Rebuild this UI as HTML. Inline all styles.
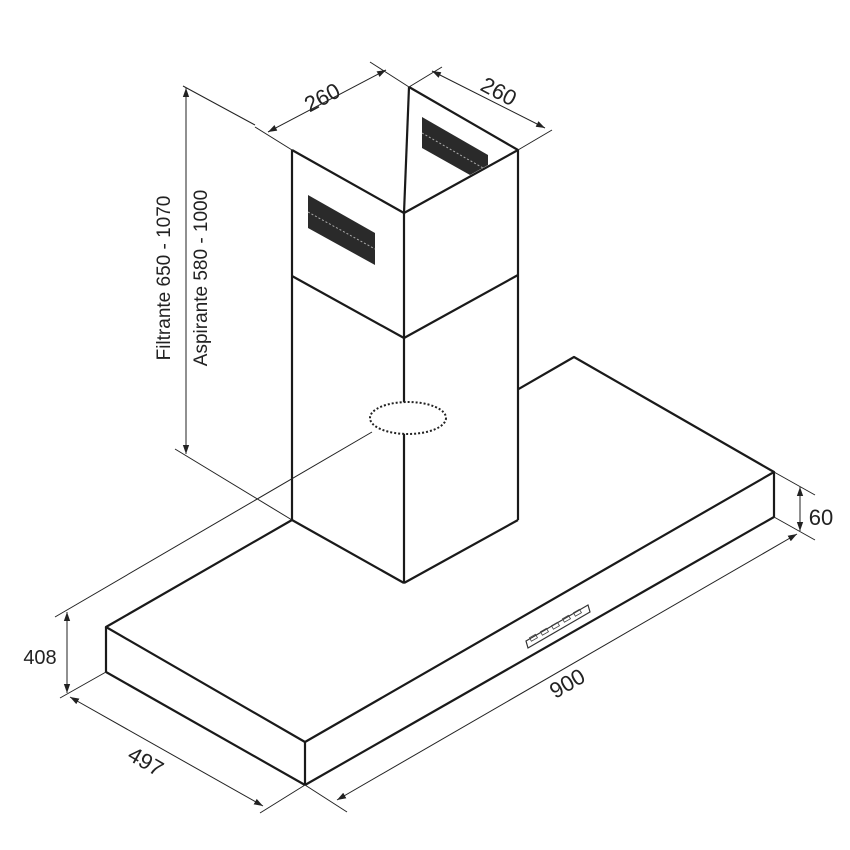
<!DOCTYPE html>
<html><head><meta charset="utf-8"><style>
html,body{margin:0;padding:0;background:#fff;}
svg{display:block;}
text{font-family:"Liberation Sans","DejaVu Sans",sans-serif;fill:#222;}
</style></head><body>
<svg width="850" height="850" viewBox="0 0 850 850" xmlns="http://www.w3.org/2000/svg">
<defs>
<marker id="a" viewBox="0 0 10 10" refX="10" refY="5" markerWidth="9" markerHeight="9" orient="auto-start-reverse" markerUnits="userSpaceOnUse">
<path d="M0,1.5 L10,5 L0,8.5 z" fill="#222"/></marker>
</defs>
<g stroke="#1a1a1a" stroke-width="2.2" fill="none" stroke-linejoin="round">
<!-- base -->
<polygon points="106,627 292,520 574,357 774,472 305,742" fill="#fff"/>
<line x1="106" y1="627" x2="106" y2="672"/>
<line x1="106" y1="672" x2="305" y2="785"/>
<line x1="305" y1="742" x2="305" y2="785"/>
<line x1="305" y1="785" x2="774" y2="517"/>
<line x1="774" y1="472" x2="774" y2="517"/>
<!-- chimney -->
<polygon points="292,150 404,213 518,150 518,520 404,583 292,520" fill="#fff" stroke="none"/>
<line x1="292" y1="150" x2="292" y2="520"/>
<line x1="404" y1="213" x2="404" y2="583"/>
<line x1="518" y1="150" x2="518" y2="520"/>
<line x1="292" y1="520" x2="404" y2="583"/>
<line x1="404" y1="583" x2="518" y2="520"/>
<line x1="292" y1="150" x2="404" y2="213"/>
<line x1="404" y1="213" x2="518" y2="150"/>
<line x1="409" y1="87" x2="518" y2="150"/>
<line x1="409" y1="87" x2="404" y2="213"/>
<line x1="292" y1="276" x2="404" y2="338"/>
<line x1="404" y1="338" x2="518" y2="275"/>
</g>
<g stroke="#222" stroke-width="1" fill="none">
<!-- extension lines -->
<line x1="255" y1="127" x2="292" y2="150"/>
<line x1="370" y1="62" x2="409" y2="87"/>
<line x1="409" y1="87" x2="442" y2="67"/>
<line x1="518" y1="150" x2="552" y2="130"/>
<line x1="183" y1="86" x2="255" y2="125"/>
<line x1="175" y1="449" x2="292" y2="520"/>
<line x1="372" y1="432" x2="55" y2="617"/>
<line x1="60" y1="698" x2="106" y2="672"/>
<line x1="260" y1="813" x2="305" y2="785"/>
<line x1="305" y1="785" x2="347" y2="812"/>
<line x1="774" y1="472" x2="815" y2="495"/>
<line x1="774" y1="517" x2="815" y2="540"/>
<!-- dimension lines -->
<line x1="268" y1="132" x2="386" y2="70" marker-start="url(#a)" marker-end="url(#a)"/>
<line x1="432" y1="71" x2="545" y2="128" marker-start="url(#a)" marker-end="url(#a)"/>
<line x1="186" y1="88" x2="186" y2="454" marker-start="url(#a)" marker-end="url(#a)"/>
<line x1="67" y1="612" x2="67" y2="693" marker-start="url(#a)" marker-end="url(#a)"/>
<line x1="70" y1="697" x2="263" y2="806" marker-start="url(#a)" marker-end="url(#a)"/>
<line x1="337" y1="800" x2="797" y2="534" marker-start="url(#a)" marker-end="url(#a)"/>
<line x1="800" y1="487" x2="800" y2="531" marker-start="url(#a)" marker-end="url(#a)"/>
</g>
<!-- vents -->
<polygon points="308,195 375,233 375,265 308,228" fill="#2a2a2a"/>
<line x1="308" y1="212" x2="375" y2="249" stroke="#aaa" stroke-width="1" stroke-dasharray="2,2"/>
<polygon points="422,117 488,155 488,165 470,175 422,148" fill="#2a2a2a"/>
<line x1="422" y1="133" x2="483" y2="168" stroke="#aaa" stroke-width="1" stroke-dasharray="2,2"/>
<!-- dotted ellipse -->
<ellipse cx="408" cy="418" rx="38" ry="16" fill="#fff" stroke="#222" stroke-width="2" stroke-dasharray="2,2"/>
<!-- control panel -->
<polygon points="526,641 588,605 590,612 528,648" fill="#fff" stroke="#333" stroke-width="1.2"/>
<g fill="none" stroke="#444" stroke-width="0.8">
<rect x="530" y="636" width="7" height="4" transform="rotate(-30 533 638)"/>
<rect x="541" y="630" width="7" height="4" transform="rotate(-30 544 632)"/>
<rect x="552" y="624" width="7" height="4" transform="rotate(-30 555 626)"/>
<rect x="563" y="617" width="7" height="4" transform="rotate(-30 566 619)"/>
<rect x="574" y="611" width="7" height="4" transform="rotate(-30 577 613)"/>
</g>
<!-- labels -->
<g font-size="22">
<text x="322" y="105" text-anchor="middle" transform="rotate(-28 322 97)">260</text>
<text x="499" y="99" text-anchor="middle" transform="rotate(28 499 91)">260</text>
<text x="177" y="285" text-anchor="middle" font-size="19" transform="rotate(-90 170 285)">Filtrante 650 - 1070</text>
<text x="214" y="285" text-anchor="middle" font-size="19" transform="rotate(-90 207 285)">Aspirante 580 - 1000</text>
<text x="40" y="664" text-anchor="middle" font-size="20">408</text>
<text x="146" y="769" text-anchor="middle" transform="rotate(30 146 761)">497</text>
<text x="567" y="691" text-anchor="middle" transform="rotate(-30 567 683)">900</text>
<text x="821" y="525" text-anchor="middle">60</text>
</g>
</svg>
</body></html>
